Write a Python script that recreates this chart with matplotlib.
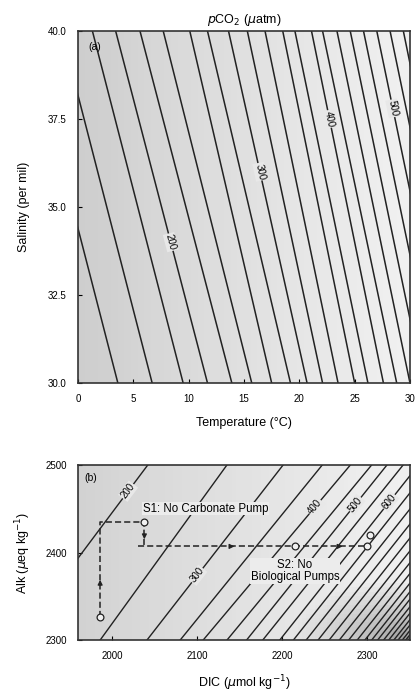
import numpy as np
import matplotlib
matplotlib.use("Agg")
import matplotlib.pyplot as plt

plt.rcParams["font.family"] = ["Liberation Sans", "DejaVu Sans"]

# (a) pCO2 isolines: temperature where each line meets S = 30 and S = 40
t_at_s30 = [3.6, 6.7, 9.5, 11.7, 13.9, 15.7, 17.5, 19.2, 20.7, 22.1, 23.5,
            25.0, 26.2, 27.6, 28.8, 30.0, 31.2, 32.4, 33.6, 34.8, 35.9]
t_at_s40 = [-4.6, -1.5, 1.3, 3.4, 5.6, 7.7, 10.1, 11.7, 13.6, 15.3, 16.9,
            18.5, 19.6, 21.1, 22.1, 23.4, 24.6, 25.8, 27.0, 28.2, 29.4]
top_labels = {3: "200", 8: "300", 13: "400", 18: "500"}
top_label_sal = {3: 34.0, 8: 36.0, 13: 37.5, 18: 37.8}

# (b) pCO2 isolines: DIC where each line meets Alk = 2300 and Alk = 2500
dic_at_alk2300 = [1888, 1986, 2041, 2080, 2107, 2135, 2158, 2177, 2197, 2213,
                  2228, 2242, 2255, 2267, 2278, 2288, 2297, 2305, 2312, 2319,
                  2325, 2331, 2336, 2341, 2345, 2348]
dic_at_alk2500 = [2042, 2135, 2201, 2247, 2280, 2305, 2323, 2342, 2360, 2376,
                  2391, 2405, 2418, 2430, 2441, 2451, 2460, 2468, 2475, 2482,
                  2488, 2494, 2499, 2504, 2508, 2511]
bot_labels = {0: "200", 2: "300", 4: "400", 6: "500", 8: "600"}
bot_label_alk = {0: 2470, 2: 2374, 4: 2452, 6: 2455, 8: 2458}

# scenario paths
s1_dic = [1986, 1986, 2038, 2038]
s1_alk = [2326, 2435, 2435, 2408]
s2_dic = [2030, 2300]
s2_alk = [2407, 2407]
circle_dic = [1986, 2038, 2215, 2300, 2303]
circle_alk = [2326, 2435, 2407, 2407, 2420]
arrow_dic = [2141, 2268]

fig = plt.figure(figsize=(4.16, 6.95), dpi=100)
ax1 = fig.add_axes([0.1875, 0.449, 0.798, 0.5065])
ax2 = fig.add_axes([0.1875, 0.079, 0.798, 0.252])

# light stippled look: soft gray shading
grad = np.linspace(0.30, 0.12, 50)[None, :]
ax1.imshow(grad, extent=[0, 30, 30, 40], aspect="auto", cmap="Greys",
           vmin=0, vmax=1, zorder=0)
gx, gy = np.meshgrid(np.linspace(0, 1, 80), np.linspace(0, 1, 40))
g2 = 0.28 - 0.16 * gx + 0.35 * np.clip(1 - np.hypot(1 - gx, gy) / 0.35, 0, 1)
ax2.imshow(g2, extent=[1960, 2350, 2300, 2500], origin="lower", aspect="auto",
           cmap="Greys", vmin=0, vmax=1, zorder=0)

for i, (a, b) in enumerate(zip(t_at_s30, t_at_s40)):
    ax1.plot([a, b], [30, 40], color="#222222", lw=1.1, zorder=2)
    if i in top_labels:
        s = top_label_sal[i]
        t = a + (b - a) * (s - 30) / 10
        ang = np.degrees(np.arctan2(352, (b - a) * 332 / 30)) - 180
        ax1.text(t, s, top_labels[i], rotation=ang,
                 ha="center", va="center", fontsize=7, zorder=3,
                 bbox=dict(fc="#e8e8e8", ec="none", pad=0.6))

ax1.set_xlim(0, 30)
ax1.set_ylim(30, 40)
ax1.set_xticks([0, 5, 10, 15, 20, 25, 30])
ax1.set_yticks([30, 32.5, 35, 37.5, 40])
ax1.set_yticklabels(["30.0", "32.5", "35.0", "37.5", "40.0"])
ax1.set_xlabel("Temperature (°C)", fontsize=9, labelpad=9)
ax1.set_ylabel("Salinity (per mil)", fontsize=9, labelpad=13)
ax1.set_title(r"$p$CO$_2$ ($\mu$atm)", fontsize=9, pad=6)
ax1.text(0.9, 39.45, "(a)", fontsize=7.5, zorder=3)

for i, (a, b) in enumerate(zip(dic_at_alk2300, dic_at_alk2500)):
    ax2.plot([a, b], [2300, 2500], color="#222222", lw=1.0, zorder=2)
    if i in bot_labels:
        alk = bot_label_alk[i]
        d = a + (b - a) * (alk - 2300) / 200
        ang = np.degrees(np.arctan2(175, (b - a) * 332 / 390))
        ax2.text(d, alk, bot_labels[i], rotation=ang, ha="center", va="center",
                 fontsize=7, zorder=3,
                 bbox=dict(fc="#e8e8e8", ec="none", pad=0.6))

ax2.plot(s1_dic, s1_alk, ls=(0, (4, 2)), color="#222222", lw=1.1, zorder=4)
ax2.plot(s2_dic, s2_alk, ls=(0, (4, 2)), color="#222222", lw=1.1, zorder=4)
ax2.scatter(circle_dic, circle_alk, s=24, facecolor="#f0f0f0",
            edgecolor="#222222", lw=0.9, zorder=5)
for d in arrow_dic:
    ax2.annotate("", xy=(d + 6, 2407), xytext=(d - 6, 2407),
                 arrowprops=dict(arrowstyle="-|>", color="#222222", lw=0.9,
                                 mutation_scale=7), zorder=5)
ax2.annotate("", xy=(2038, 2412), xytext=(2038, 2424),
             arrowprops=dict(arrowstyle="-|>", color="#222222", lw=0.9,
                             mutation_scale=7), zorder=5)
ax2.annotate("", xy=(1986, 2372), xytext=(1986, 2360),
             arrowprops=dict(arrowstyle="-|>", color="#222222", lw=0.9,
                             mutation_scale=7), zorder=5)

ax2.text(2110, 2450, "S1: No Carbonate Pump", ha="center", va="center",
         fontsize=8.3, zorder=6, bbox=dict(fc="#ececec", ec="none", pad=0.5))
ax2.text(2215, 2379, "S2: No\nBiological Pumps", ha="center", va="center",
         fontsize=8.3, linespacing=1.0, zorder=6,
         bbox=dict(fc="#ececec", ec="none", pad=0.5))
ax2.text(1968, 2482, "(b)", fontsize=7.5, zorder=6)

ax2.set_xlim(1960, 2350)
ax2.set_ylim(2300, 2500)
ax2.set_xticks([2000, 2100, 2200, 2300])
ax2.set_yticks([2300, 2400, 2500])
ax2.set_xlabel(r"DIC ($\mu$mol kg$^{-1}$)", fontsize=9, labelpad=9)
ax2.set_ylabel(r"Alk ($\mu$eq kg$^{-1}$)", fontsize=9, labelpad=9)

for ax in (ax1, ax2):
    ax.tick_params(direction="in", labelsize=7, length=3, pad=8)
    for sp in ax.spines.values():
        sp.set_linewidth(1.2)
        sp.set_color("#333333")

fig.savefig("out.png", dpi=100)
